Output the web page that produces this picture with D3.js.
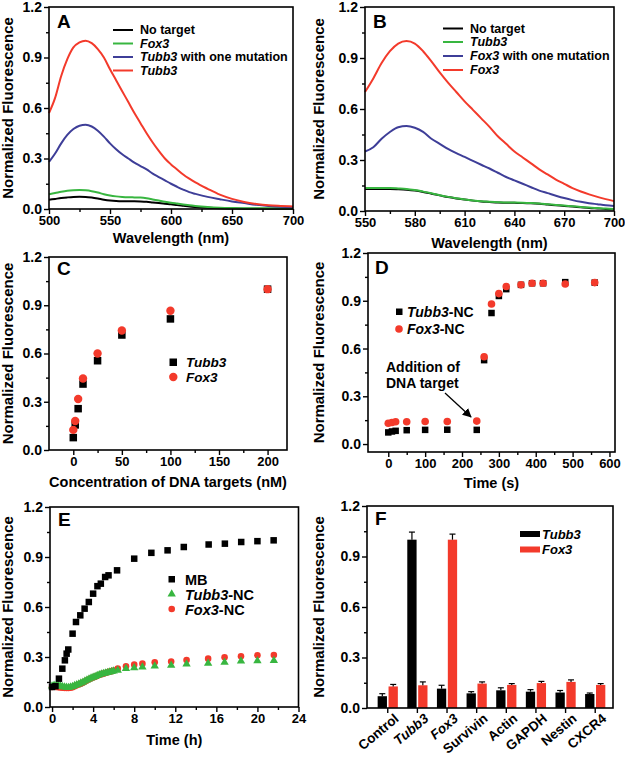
<!DOCTYPE html>
<html><head><meta charset="utf-8">
<script src="https://cdn.jsdelivr.net/npm/d3@7"></script>
<style>body{margin:0;background:#fff} svg text{font-family:"Liberation Sans",Arial,Helvetica,sans-serif;font-weight:bold;fill:#000}</style>
</head><body><svg id="c" width="625" height="758"></svg>
<script>
// ---------- DATA ----------
const yTicks = [0, 0.3, 0.6, 0.9, 1.2];
const yMinor = [0.15, 0.45, 0.75, 1.05];

// Panel A
const aWave = [500,505,510,515,520,525,530,535,540,545,550,555,560,565,570,575,580,585,590,595,600,605,610,615,620,630,640,650,660,670,680,690,700];
const aNoTarget = [.055,.06,.065,.069,.072,.073,.072,.068,.062,.055,.05,.047,.046,.046,.046,.045,.043,.039,.035,.031,.028,.023,.019,.015,.012,.007,.004,.003,.002,.002,.002,.002,.002];
const aFox3 = [.088,.095,.103,.109,.112,.113,.111,.106,.098,.088,.08,.075,.072,.07,.069,.068,.064,.057,.05,.043,.037,.032,.027,.022,.018,.012,.008,.006,.005,.005,.005,.005,.005];
const aTubb3Mut = [.28,.33,.39,.44,.475,.495,.5,.49,.465,.43,.39,.355,.325,.3,.275,.255,.235,.21,.19,.17,.15,.132,.115,.1,.09,.072,.058,.045,.035,.025,.018,.013,.01];
const aTubb3 = [.57,.66,.79,.89,.96,.99,1.0,.985,.95,.9,.83,.765,.7,.635,.57,.51,.45,.395,.345,.3,.265,.235,.205,.18,.158,.12,.085,.06,.042,.03,.022,.018,.015];
const aTicks = [500,550,600,650,700];
const aMinor = [525,575,625,675];

// Panel B
const bWave = [550,555,560,565,570,575,580,585,590,595,600,605,610,615,620,625,630,635,640,645,650,655,660,665,670,675,680,685,690,695,700];
const bNoTarget = [.13,.13,.13,.13,.128,.125,.12,.112,.102,.092,.082,.074,.067,.061,.056,.053,.05,.049,.048,.047,.045,.042,.038,.034,.03,.026,.022,.018,.015,.012,.01];
const bTubb3 = [.135,.135,.135,.135,.133,.13,.123,.114,.104,.093,.083,.075,.068,.062,.057,.054,.052,.05,.05,.049,.047,.044,.04,.036,.032,.028,.024,.02,.017,.014,.012];
const bFox3Mut = [.35,.375,.425,.465,.493,.5,.49,.465,.425,.395,.365,.34,.318,.295,.272,.25,.225,.2,.18,.16,.14,.12,.105,.09,.076,.064,.054,.046,.04,.034,.03];
const bFox3 = [.7,.78,.87,.94,.985,1.0,.985,.94,.88,.815,.755,.7,.645,.595,.545,.495,.44,.395,.35,.315,.28,.245,.215,.185,.16,.135,.115,.098,.083,.07,.058];
const bTicks = [550,580,610,640,670,700];
const bMinor = [565,595,625,655,685];

// Panel C
const cConc = [0, 2, 5, 10, 25, 50, 100, 200];
const cTubb3 = [0.077, 0.156, 0.257, 0.41, 0.555, 0.715, 0.815, 1.0];
const cFox3 = [0.125, 0.18, 0.317, 0.445, 0.60, 0.743, 0.866, 1.0];
const cTicks = [0,50,100,150,200];
const cMinor = [25,75,125,175];

// Panel D
const dTime = [0,10,20,50,100,160,240,260,280,300,320,360,390,420,480,560];
const dTubb3 = [0.073,0.079,0.083,0.087,0.089,0.09,0.089,0.527,0.823,0.93,0.973,1.0,1.01,1.01,1.017,1.014];
const dFox3 = [0.131,0.135,0.14,0.14,0.142,0.142,0.144,0.548,0.88,0.945,0.99,1.0,1.01,1.01,1.005,1.014];
const dTicks = [0,100,200,300,400,500,600];
const dMinor = [50,150,250,350,450,550];

// Panel E
const eMBt = [0,0.33,0.67,1.0,1.25,1.42,1.58,2.0,2.33,2.75,3.17,3.58,4.0,4.42,4.75,5.17,5.5,6.33,8.0,9.67,11.25,12.83,15.25,16.83,18.42,20.0,21.58];
const eMB = [0.12,0.125,0.17,0.23,0.28,0.32,0.345,0.44,0.51,0.55,0.59,0.63,0.68,0.725,0.74,0.78,0.79,0.82,0.89,0.925,0.94,0.96,0.975,0.98,0.99,0.995,1.0];
const eT = [0,0.2,0.4,0.6,0.8,1.0,1.2,1.4,1.6,1.8,2.0,2.2,2.4,2.6,2.8,3.0,3.2,3.4,3.6,3.8,4.0,4.2,4.4,4.6,4.8,5.0,5.2,5.4,5.6,5.8,6.0,6.4,7.2,8.0,8.8,10.0,11.6,13.1,15.2,16.8,18.4,20.0,21.6];
const eTubb3NC = [0.125,0.13,0.128,0.13,0.127,0.122,0.12,0.118,0.117,0.12,0.122,0.128,0.133,0.138,0.143,0.148,0.155,0.162,0.168,0.173,0.178,0.183,0.188,0.193,0.197,0.2,0.203,0.206,0.21,0.212,0.215,0.22,0.23,0.235,0.24,0.245,0.25,0.258,0.262,0.268,0.275,0.277,0.278];
const eFox3NC = [0.12,0.122,0.12,0.119,0.117,0.116,0.115,0.114,0.114,0.116,0.119,0.125,0.13,0.135,0.14,0.146,0.153,0.16,0.166,0.172,0.177,0.182,0.187,0.192,0.197,0.2,0.204,0.208,0.212,0.215,0.219,0.231,0.244,0.254,0.26,0.268,0.273,0.282,0.29,0.298,0.304,0.31,0.312];
const eTicks = [0,4,8,12,16,20,24];
const eMinor = [2,6,10,14,18,22];

// Panel F
const fCats = ["Control","Tubb3","Fox3","Survivin","Actin","GAPDH","Nestin","CXCR4"];
const fTubb3 = [0.07, 1.0, 0.115, 0.087, 0.105, 0.097, 0.092, 0.083];
const fTubb3Err = [0.015, 0.045, 0.02, 0.01, 0.015, 0.012, 0.012, 0.006];
const fFox3 = [0.128, 0.135, 1.0, 0.145, 0.137, 0.148, 0.155, 0.137];
const fFox3Err = [0.012, 0.02, 0.033, 0.01, 0.008, 0.01, 0.012, 0.008];

// ---------- DRAW ----------
const RED = "#f33a2b", GREEN = "#38b640", BLUE = "#3e3e98", BLACK = "#000";
const FONT = '"Liberation Sans", Arial, Helvetica, sans-serif';
const svg = d3.select("#c");

function styleAxis(sel, fs) {
  sel.attr("font-family", FONT).attr("font-size", fs).attr("font-weight", "bold");
  sel.select(".domain").remove();
  sel.selectAll(".tick line").attr("stroke", "#000").attr("stroke-width", 1.4);
  sel.selectAll(".tick text").attr("fill", "#000");
}

function panel(o) {
  const x = d3.scaleLinear().domain(o.xd).range([o.l, o.r]);
  const y = d3.scaleLinear().domain(o.yd).range([o.b, o.t]);
  const g = svg.append("g");
  g.append("g").attr("transform", `translate(${o.l},0)`)
    .call(d3.axisLeft(y).tickValues(yMinor).tickSize(3).tickFormat("")).call(s => styleAxis(s, 14));
  g.append("g").attr("transform", `translate(${o.l},0)`)
    .call(d3.axisLeft(y).tickValues(yTicks).tickSize(5).tickPadding(2).tickFormat(d3.format(".1f"))).call(s => styleAxis(s, 14));
  if (o.xM) {
    g.append("g").attr("transform", `translate(0,${o.b})`)
      .call(d3.axisBottom(x).tickValues(o.xm).tickSize(3).tickFormat("")).call(s => styleAxis(s, 13));
    g.append("g").attr("transform", `translate(0,${o.b})`)
      .call(d3.axisBottom(x).tickValues(o.xM).tickSize(5).tickPadding(2).tickFormat(d3.format("d"))).call(s => styleAxis(s, 13));
  }
  g.append("text").attr("transform", `translate(${o.yt},${(o.t + o.b) / 2}) rotate(-90)`)
    .attr("text-anchor", "middle").attr("font-size", 15).text("Normalized Fluorescence");
  if (o.xt) g.append("text").attr("x", (o.l + o.r) / 2).attr("y", o.xtY)
    .attr("text-anchor", "middle").attr("font-size", 14.5).text(o.xt);
  g.append("text").attr("x", o.lx).attr("y", o.ly).attr("font-size", 19).text(o.letter);
  const plot = g.append("g");
  g.append("rect").attr("x", o.l).attr("y", o.t).attr("width", o.r - o.l).attr("height", o.b - o.t)
    .attr("fill", "none").attr("stroke", "#000").attr("stroke-width", 1.6);
  return { g, plot, x, y };
}

function italicLabel(sel, parts) {
  parts.forEach(p => sel.append("tspan").attr("font-style", p[1] ? "italic" : "normal").text(p[0]));
}

function lineLegend(g, x0, items) {
  items.forEach((it, i) => {
    g.append("line").attr("x1", x0).attr("x2", x0 + 20).attr("y1", it.y).attr("y2", it.y)
      .attr("stroke", it.c).attr("stroke-width", 2);
    const t = g.append("text").attr("x", x0 + 27).attr("y", it.y).attr("dy", "0.35em").attr("font-size", 12.5);
    italicLabel(t, it.parts);
  });
}

// ---- Panel A ----
{
  const P = panel({ l: 49, r: 293, t: 7, b: 209, xd: [500, 700], yd: [0, 1.2], xM: aTicks, xm: aMinor,
    xt: "Wavelength (nm)", xtY: 243, yt: 12.5, letter: "A", lx: 57, ly: 28 });
  const line = d3.line().x((d, i) => P.x(aWave[i])).y(d => P.y(d)).curve(d3.curveMonotoneX);
  [[aNoTarget, BLACK], [aFox3, GREEN], [aTubb3Mut, BLUE], [aTubb3, RED]].forEach(([s, c]) =>
    P.plot.append("path").attr("d", line(s)).attr("fill", "none").attr("stroke", c).attr("stroke-width", 2));
  lineLegend(P.g, 113, [
    { y: 30, c: BLACK, parts: [["No target", 0]] },
    { y: 43.5, c: GREEN, parts: [["Fox3", 1]] },
    { y: 57, c: BLUE, parts: [["Tubb3", 1], [" with one mutation", 0]] },
    { y: 70.5, c: RED, parts: [["Tubb3", 1]] }]);
}

// ---- Panel B ----
{
  const P = panel({ l: 365, r: 614, t: 7, b: 211, xd: [550, 700], yd: [0, 1.2], xM: bTicks, xm: bMinor,
    xt: "Wavelength (nm)", xtY: 248, yt: 324, letter: "B", lx: 373, ly: 28 });
  const line = d3.line().x((d, i) => P.x(bWave[i])).y(d => P.y(d)).curve(d3.curveMonotoneX);
  [[bNoTarget, BLACK], [bTubb3, GREEN], [bFox3Mut, BLUE], [bFox3, RED]].forEach(([s, c]) =>
    P.plot.append("path").attr("d", line(s)).attr("fill", "none").attr("stroke", c).attr("stroke-width", 2));
  lineLegend(P.g, 443, [
    { y: 28.5, c: BLACK, parts: [["No target", 0]] },
    { y: 42, c: GREEN, parts: [["Tubb3", 1]] },
    { y: 56, c: BLUE, parts: [["Fox3", 1], [" with one mutation", 0]] },
    { y: 70, c: RED, parts: [["Fox3", 1]] }]);
}

function squares(plot, xs, ys, x, y, size, color) {
  plot.selectAll(null).data(ys).enter().append("rect")
    .attr("x", (d, i) => x(xs[i]) - size / 2).attr("y", d => y(d) - size / 2)
    .attr("width", size).attr("height", size).attr("fill", color);
}
function circles(plot, xs, ys, x, y, r, color) {
  plot.selectAll(null).data(ys).enter().append("circle")
    .attr("cx", (d, i) => x(xs[i])).attr("cy", d => y(d)).attr("r", r).attr("fill", color);
}

// ---- Panel C ----
{
  const P = panel({ l: 49, r: 287, t: 257, b: 450, xd: [-25, 220], yd: [0, 1.2], xM: cTicks, xm: cMinor,
    xt: "Concentration of DNA targets (nM)", xtY: 487, yt: 12.5, letter: "C", lx: 57, ly: 275 });
  squares(P.plot, cConc, cTubb3, P.x, P.y, 7.5, BLACK);
  circles(P.plot, cConc, cFox3, P.x, P.y, 4.2, RED);
  P.g.append("rect").attr("x", 169.5).attr("y", 358.5).attr("width", 7.5).attr("height", 7.5).attr("fill", BLACK);
  P.g.append("circle").attr("cx", 173.3).attr("cy", 377).attr("r", 4.2).attr("fill", RED);
  italicLabel(P.g.append("text").attr("x", 186).attr("y", 362.5).attr("dy", "0.35em").attr("font-size", 13.5), [["Tubb3", 1]]);
  italicLabel(P.g.append("text").attr("x", 186).attr("y", 377).attr("dy", "0.35em").attr("font-size", 13.5), [["Fox3", 1]]);
}

// ---- Panel D ----
{
  const P = panel({ l: 368, r: 615, t: 253, b: 452, xd: [-55, 615], yd: [-0.05, 1.2], xM: dTicks, xm: dMinor,
    xt: "Time (s)", xtY: 488, yt: 324, letter: "D", lx: 375, ly: 274 });
  squares(P.plot, dTime, dTubb3, P.x, P.y, 6.5, BLACK);
  circles(P.plot, dTime, dFox3, P.x, P.y, 3.8, RED);
  P.g.append("rect").attr("x", 396).attr("y", 308.5).attr("width", 6.5).attr("height", 6.5).attr("fill", BLACK);
  P.g.append("circle").attr("cx", 399).attr("cy", 329).attr("r", 3.8).attr("fill", RED);
  italicLabel(P.g.append("text").attr("x", 407).attr("y", 312).attr("dy", "0.35em").attr("font-size", 14), [["Tubb3", 1], ["-NC", 0]]);
  italicLabel(P.g.append("text").attr("x", 407).attr("y", 329).attr("dy", "0.35em").attr("font-size", 14), [["Fox3", 1], ["-NC", 0]]);
  P.g.append("text").attr("x", 386).attr("y", 372).attr("font-size", 14).text("Addition of");
  P.g.append("text").attr("x", 386).attr("y", 388).attr("font-size", 14).text("DNA target");
  const defs = svg.append("defs");
  defs.append("marker").attr("id", "arr").attr("viewBox", "0 0 10 10").attr("refX", 9).attr("refY", 5)
    .attr("markerWidth", 7).attr("markerHeight", 7).attr("orient", "auto")
    .append("path").attr("d", "M0,0 L10,5 L0,10 z").attr("fill", "#000");
  P.g.append("line").attr("x1", 445).attr("y1", 393).attr("x2", 471).attr("y2", 417)
    .attr("stroke", "#000").attr("stroke-width", 1.3).attr("marker-end", "url(#arr)");
}

// ---- Panel E ----
{
  const P = panel({ l: 50, r: 298.5, t: 507, b: 707, xd: [-0.2, 24], yd: [0, 1.2], xM: eTicks, xm: eMinor,
    xt: "Time (h)", xtY: 745, yt: 12.5, letter: "E", lx: 58, ly: 526 });
  circles(P.plot, eT, eFox3NC, P.x, P.y, 3.3, RED);
  const tri = d3.symbol().type(d3.symbolTriangle).size(30);
  P.plot.selectAll(null).data(eTubb3NC).enter().append("path").attr("d", tri)
    .attr("transform", (d, i) => `translate(${P.x(eT[i])},${P.y(d)})`).attr("fill", GREEN);
  squares(P.plot, eMBt, eMB, P.x, P.y, 6.5, BLACK);
  P.g.append("rect").attr("x", 168.5).attr("y", 576).attr("width", 6.5).attr("height", 6.5).attr("fill", BLACK);
  P.g.append("path").attr("d", tri).attr("transform", "translate(171.7,594)").attr("fill", GREEN);
  P.g.append("circle").attr("cx", 171.7).attr("cy", 609).attr("r", 3.3).attr("fill", RED);
  P.g.append("text").attr("x", 185).attr("y", 579.5).attr("dy", "0.35em").attr("font-size", 14.5).text("MB");
  italicLabel(P.g.append("text").attr("x", 185).attr("y", 594.5).attr("dy", "0.35em").attr("font-size", 14.5), [["Tubb3", 1], ["-NC", 0]]);
  italicLabel(P.g.append("text").attr("x", 185).attr("y", 609.5).attr("dy", "0.35em").attr("font-size", 14.5), [["Fox3", 1], ["-NC", 0]]);
}

// ---- Panel F ----
{
  const P = panel({ l: 367, r: 613, t: 506, b: 708, xd: [0, 1], yd: [0, 1.2],
    yt: 324, letter: "F", lx: 375, ly: 525 });
  const xi = d3.scaleLinear().domain([-0.7, 7.6]).range([367, 613]);
  const bw = 9.3, gap = 0.8;
  fCats.forEach((c, i) => {
    const cx = xi(i);
    P.g.append("line").attr("x1", cx).attr("x2", cx).attr("y1", 708).attr("y2", 713)
      .attr("stroke", "#000").attr("stroke-width", 1.4);
    const it = (c === "Tubb3" || c === "Fox3");
    P.g.append("text").attr("transform", `translate(${cx + 12},${720}) rotate(-40)`)
      .attr("text-anchor", "end").attr("font-size", 13.5)
      .attr("font-style", it ? "italic" : "normal").text(c);
  });
  const bars = [[fTubb3, fTubb3Err, BLACK, -1], [fFox3, fFox3Err, RED, 1]];
  bars.forEach(([vals, errs, col, side]) => {
    vals.forEach((v, i) => {
      const x0 = side < 0 ? xi(i) - gap - bw : xi(i) + gap;
      P.plot.append("rect").attr("x", x0).attr("y", P.y(v)).attr("width", bw).attr("height", P.y(0) - P.y(v)).attr("fill", col);
      const cx = x0 + bw / 2;
      P.plot.append("line").attr("x1", cx).attr("x2", cx).attr("y1", P.y(v)).attr("y2", P.y(v + errs[i]))
        .attr("stroke", "#000").attr("stroke-width", 1.2);
      P.plot.append("line").attr("x1", cx - 3).attr("x2", cx + 3).attr("y1", P.y(v + errs[i])).attr("y2", P.y(v + errs[i]))
        .attr("stroke", "#000").attr("stroke-width", 1.2);
    });
  });
  P.g.append("rect").attr("x", 520).attr("y", 531).attr("width", 20).attr("height", 6).attr("fill", BLACK);
  P.g.append("rect").attr("x", 520).attr("y", 546.5).attr("width", 20).attr("height", 6).attr("fill", RED);
  italicLabel(P.g.append("text").attr("x", 542).attr("y", 534).attr("dy", "0.35em").attr("font-size", 13), [["Tubb3", 1]]);
  italicLabel(P.g.append("text").attr("x", 542).attr("y", 549.5).attr("dy", "0.35em").attr("font-size", 13), [["Fox3", 1]]);
}
</script></body></html>
